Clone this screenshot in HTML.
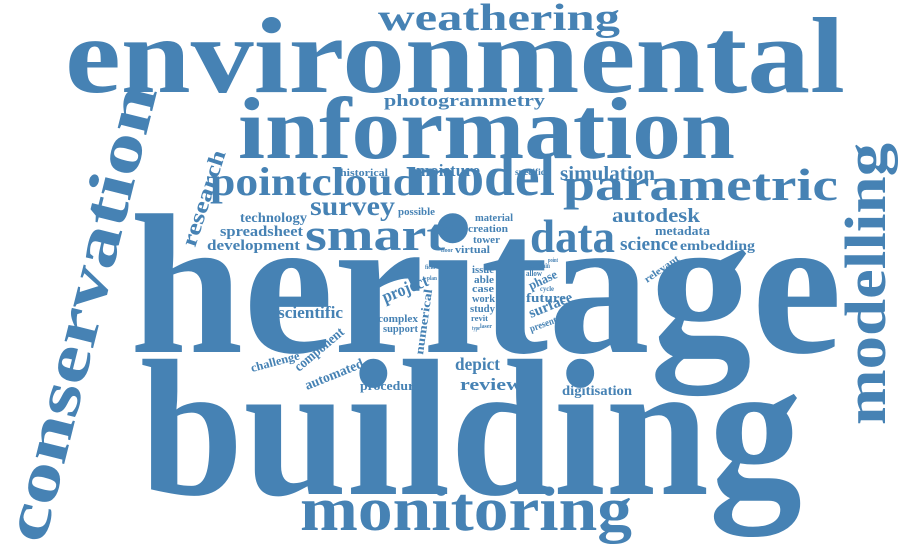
<!DOCTYPE html>
<html><head><meta charset="utf-8">
<style>
html,body{margin:0;padding:0;background:#fff;}
svg{display:block;}
text{font-family:"Liberation Serif",serif;font-weight:bold;fill:#4682b4;}
</style></head>
<body>
<svg width="900" height="558" viewBox="0 0 900 558">
<g id="words"></g>
</svg>
<script>
// word, x, baseline y, font size, width, rotation
const words=["heritage","building","environmental","information","weathering","photogrammetry","modelling","conservation","monitoring","pointcloud","model","parametric","smart","data","survey","simulation","autodesk","science","embedding","metadata","research","technology","spreadsheet","development","historical","moisture","specific","possible","material","creation","tower","jewel","floor","virtual","issue","able","case","work","study","revit","type","laser","wall","main","allow","phase","cycle","future","surface","present","point","relevant","project","field","plan","scientific","complex","support","numerical","component","challenge","automated","procedure","depict","review","digitisation"];
const xs=[130,140,65,238,378,384,885,44,300,210,410,563,305,530,310,560,612,620,680,655,195,240,220,207,340,416,515,398,475,468,473,440,441,455,472,474,472,472,470,471,472,480,525,538,526,531,540,526,531,531,548,647,385,425,427,278,378,383,423,299,252,307,360,455,460,562];
const ys=[352,494,92,158,30,106,425,545,530,195,195,200,250,252,215,180,222,250,250,235,248,222,236,250,176,176,175,215,221,232,243,230,252,253,273,283,292,302,312,321,330,328,268,268,276,290,291,302,318,332,262,283,303,269,280,318,322,332,355,372,372,390,390,370,390,395];
const sizes=[200,195,108,88,38,17,58,64,62,40,56,45,45,47,27,20,20,19,14,13,22,14,15,15,11,17,9,10,11,11,11,7,6,11,10,10,10,10,10,8,6,6,6,7,8,13,7,13,15,10,6,10,18,6,6,17,11,11,12,14,12,14,13,18,17,14];
const widths=[712,662,780,497,242,161,282,468,332,208,145,275,140,85,85,95,88,58,75,55,100,67,83,93,48,64,30,37,38,40,27,14,12,35,22,20,22,23,25,17,8,12,10,12,16,30,14,40,46,28,10,40,48,10,10,65,40,35,66,60,50,62,60,45,62,70];
const rots=[0,0,0,0,0,0,-90,-76,0,0,0,0,0,0,0,0,0,0,0,0,-72,0,0,0,0,0,0,0,0,0,0,0,0,0,0,0,0,0,0,0,0,0,0,0,0,-25,0,0,-22,-20,0,-35,-22,0,0,0,0,0,-82,-40,-15,-22,0,0,0,0];
const g=document.getElementById('words');
const NS="http://www.w3.org/2000/svg";
words.forEach((w,i)=>{
 const t=document.createElementNS(NS,'text');
 t.setAttribute('x',xs[i]);t.setAttribute('y',ys[i]);
 t.setAttribute('font-size',sizes[i]);
 t.setAttribute('textLength',widths[i]);
 t.setAttribute('lengthAdjust','spacingAndGlyphs');
 if(rots[i])t.setAttribute('transform','rotate('+rots[i]+' '+xs[i]+' '+ys[i]+')');
 t.textContent=w;
 
 
 g.appendChild(t);
});
</script>
</body></html>
